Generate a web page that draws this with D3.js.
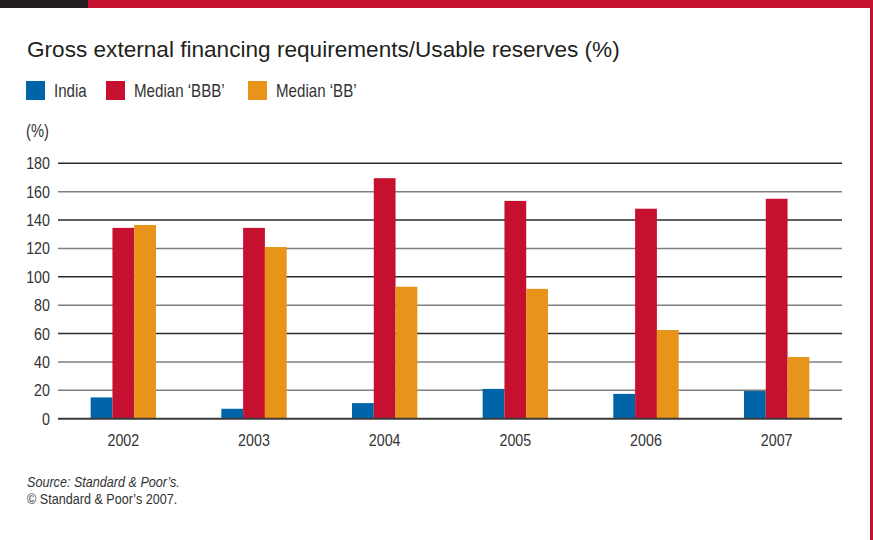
<!DOCTYPE html>
<html>
<head>
<meta charset="utf-8">
<script src="https://cdn.jsdelivr.net/npm/d3@7"></script>
<style>
  html, body { margin: 0; padding: 0; background: #fff; }
  svg { display: block; }
  .cond { font-family: "Liberation Sans", Arial, sans-serif; }
</style>
</head>
<body>
<svg id="chart" width="873" height="540"></svg>
<script>
// Years on the x axis
const years = ["2002", "2003", "2004", "2005", "2006", "2007"];
// Series names and values (%)
const seriesNames = ["India", "Median \u2018BBB\u2019", "Median \u2018BB\u2019"];
const india = [15, 7, 11, 21, 17.5, 19.5];
const medianBBB = [134.5, 134.5, 169.5, 153.5, 148, 155];
const medianBB = [136.5, 121, 93, 91.5, 62.5, 43.5];
const yTicks = [0, 20, 40, 60, 80, 100, 120, 140, 160, 180];
const seriesColors = ["#0065a8", "#c5112f", "#e8941a"];

const seriesValues = [india, medianBBB, medianBB];
const svg = d3.select("#chart");
const W = 873, H = 540;
const NARROW = 0.84; // horizontal squeeze for the condensed label face

// Draws a condensed text label anchored at (x, y)
function narrowText(parent, x, y, str, size, opts = {}) {
  return parent.append("text")
    .attr("class", "cond")
    .attr("transform", `translate(${x},${y}) scale(${NARROW},1)`)
    .attr("font-size", size)
    .attr("font-style", opts.italic ? "italic" : null)
    .attr("fill", "#333")
    .text(str);
}

// Frame: top band and right edge rule
svg.append("rect").attr("x", 0).attr("y", 0).attr("width", W).attr("height", 8).attr("fill", "#c5112f");
svg.append("rect").attr("x", 0).attr("y", 0).attr("width", 88).attr("height", 8).attr("fill", "#231f20");
svg.append("rect").attr("x", 870).attr("y", 8).attr("width", 3).attr("height", H - 8).attr("fill", "#c5112f");

// Title
svg.append("text")
  .attr("x", 27).attr("y", 57)
  .attr("font-family", "'Liberation Sans', Arial, sans-serif")
  .attr("font-size", 22.6)
  .attr("fill", "#231f20")
  .text("Gross external financing requirements/Usable reserves (%)");

// Legend
const legendX = [26, 106, 248];
const legend = svg.append("g");
seriesNames.forEach((name, i) => {
  legend.append("rect").attr("x", legendX[i]).attr("y", 81).attr("width", 19).attr("height", 19)
    .attr("fill", seriesColors[i]);
  narrowText(legend, legendX[i] + 28, 97, name, 18);
});

// Unit label
narrowText(svg, 26, 137, "(%)", 17.5);

// Scales
const x0 = d3.scaleBand().domain(years).range([58, 842]).paddingInner(0.5).paddingOuter(0.25);
const x1 = d3.scaleBand().domain(d3.range(seriesNames.length)).range([0, x0.bandwidth()]);
const y = d3.scaleLinear().domain([0, 180]).range([418.7, 163.3]);

// Gridlines: alternating dark and mid grey rules
const grid = svg.append("g");
grid.selectAll("line").data(yTicks.filter(t => t !== 0)).join("line")
  .attr("x1", 58).attr("x2", 842)
  .attr("y1", d => y(d)).attr("y2", d => y(d))
  .attr("stroke", d => (d % 40 === 20 && d !== 20 ? "#2b2b2b" : "#7f7f7f"))
  .attr("stroke-width", 1.4);

// Y axis tick labels
const yAxis = d3.axisLeft(y).tickValues(yTicks).tickSize(0).tickPadding(0).tickFormat(d3.format("d"));
svg.append("g").attr("class", "cond")
  .attr("transform", "translate(50,0)")
  .call(yAxis)
  .call(g => g.select(".domain").remove())
  .call(g => g.selectAll("text").attr("font-size", 17).attr("fill", "#333")
    .attr("font-family", null).attr("transform", `scale(${NARROW},1)`));

// Bars
const groups = svg.append("g").selectAll("g").data(years).join("g")
  .attr("transform", d => `translate(${x0(d)},0)`);
groups.selectAll("rect")
  .data((d, yi) => seriesValues.map((s, si) => ({ si, v: s[yi] })))
  .join("rect")
  .attr("x", d => x1(d.si))
  .attr("width", x1.bandwidth())
  .attr("y", d => y(d.v))
  .attr("height", d => y(0) - y(d.v))
  .attr("fill", d => seriesColors[d.si]);

// Baseline
svg.append("line").attr("x1", 58).attr("x2", 842).attr("y1", y(0)).attr("y2", y(0))
  .attr("stroke", "#3a3a3a").attr("stroke-width", 2);

// X axis labels
const xAxis = d3.axisBottom(x0).tickSize(0).tickPadding(0);
svg.append("g").attr("class", "cond")
  .attr("transform", "translate(0,434)")
  .call(xAxis)
  .call(g => g.select(".domain").remove())
  .call(g => g.selectAll("text").attr("font-size", 17).attr("fill", "#333")
    .attr("font-family", null).attr("transform", `scale(${NARROW},1)`));

// Footnotes
narrowText(svg, 27, 487, "Source: Standard & Poor\u2019s.", 15, { italic: true });
narrowText(svg, 27, 504, "\u00a9 Standard & Poor\u2019s 2007.", 15);
</script>
</body>
</html>
